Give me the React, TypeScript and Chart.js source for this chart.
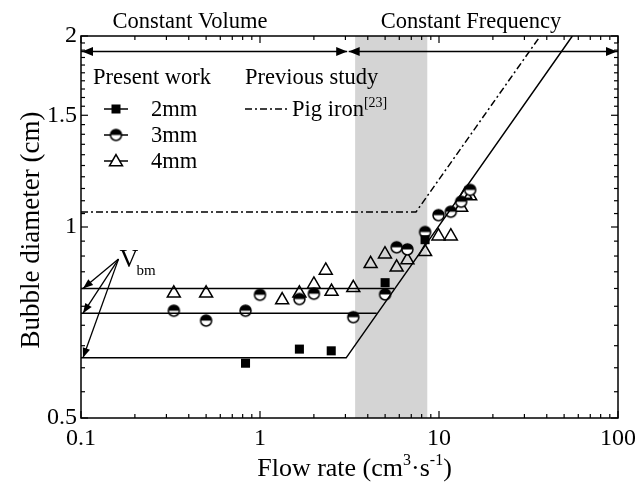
import React, { useEffect, useRef } from 'react';
import { Chart, registerables } from 'chart.js';

Chart.register(...registerables);

// ---------------- data ----------------
const flow2mm = [0.83, 1.66, 2.5, 5.0, 8.36];
const dia2mm = [0.61, 0.642, 0.638, 0.817, 0.955];

const flow3mm = [0.33, 0.5, 0.83, 1.0, 1.66, 2.0, 3.32, 5.0, 5.8, 6.66, 8.36, 9.93, 11.64, 13.3, 14.93];
const dia3mm = [0.738, 0.712, 0.738, 0.782, 0.77, 0.785, 0.721, 0.783, 0.929, 0.922, 0.982, 1.044, 1.057, 1.096, 1.144];

const flow4mm = [0.33, 0.5, 1.33, 1.66, 2.0, 2.33, 2.51, 3.32, 4.15, 4.99, 5.8, 6.66, 8.36, 9.93, 11.64, 13.3, 14.0, 14.93];
const dia4mm = [0.786, 0.786, 0.767, 0.786, 0.812, 0.854, 0.791, 0.802, 0.875, 0.906, 0.864, 0.887, 0.914, 0.967, 0.967, 1.073, 1.125, 1.119];

// model lines (present work): constant volume levels and constant frequency branch
const modelFlowA = [0.1, 5.61];
const modelDiaA = [0.8, 0.8];
const modelFlowB = [0.1, 4.49];
const modelDiaB = [0.731, 0.731];
const modelFlowC = [0.1, 3.03, 55.6];
const modelDiaC = [0.622, 0.622, 2.0];

// previous study: pig iron
const pigFlow = [0.1, 7.44, 36.8];
const pigDia = [1.056, 1.056, 2.0];

// regime arrows
const regimeDia = 1.89;
const cvFlow = [0.1, 3.07];
const cfFlow = [3.13, 100];

// transition band
const bandFlow = [3.4, 8.6];

// V_bm annotation
const vbmFlow = 0.162;
const vbmDia = 0.89;
const vbmTargets = [0.8, 0.731, 0.622];

// ticks
const xTickLabels = [0.1, 1, 10, 100];
const yTickLabels = [0.5, 1, 1.5, 2];

// ---------------- helpers ----------------
const FONT = '"Liberation Serif", "Times New Roman", serif';
const TICK_SIZE = 24;
const TEXT_SIZE = 22.5;
const TITLE_SIZE = 27;

const xTickValues: number[] = [];
for (let p = -1; p <= 1; p++) {
  for (let m = 1; m <= 9; m++) xTickValues.push(parseFloat((m * Math.pow(10, p)).toPrecision(6)));
}
xTickValues.push(100);

const yTickValues: number[] = [];
for (let i = 0; i <= 30; i++) yTickValues.push(parseFloat((0.5 + i * 0.05).toFixed(2)));

const isIn = (arr: number[], v: number) => arr.some((a) => Math.abs(a - v) < 1e-9);

const zip = (xs: number[], ys: number[]) => xs.map((x, i) => ({ x, y: ys[i] }));

function makeHalfCircle(r: number) {
  const size = Math.ceil(2 * r + 4);
  const c = document.createElement('canvas');
  c.width = size;
  c.height = size;
  const g = c.getContext('2d')!;
  const cx = size / 2, cy = size / 2;
  g.fillStyle = '#fff';
  g.beginPath(); g.arc(cx, cy, r, 0, Math.PI * 2); g.fill();
  g.fillStyle = '#000';
  g.beginPath(); g.arc(cx, cy, r, Math.PI, 2 * Math.PI); g.closePath(); g.fill();
  g.strokeStyle = '#000'; g.lineWidth = 1.5;
  g.beginPath(); g.arc(cx, cy, r, 0, Math.PI * 2); g.stroke();
  return c;
}

function arrowHead(ctx: CanvasRenderingContext2D, tipX: number, tipY: number, fromX: number, fromY: number, len = 11, half = 4.5) {
  const ang = Math.atan2(tipY - fromY, tipX - fromX);
  const bx = tipX - len * Math.cos(ang), by = tipY - len * Math.sin(ang);
  ctx.beginPath();
  ctx.moveTo(tipX, tipY);
  ctx.lineTo(bx + half * Math.sin(ang), by - half * Math.cos(ang));
  ctx.lineTo(bx - half * Math.sin(ang), by + half * Math.cos(ang));
  ctx.closePath();
  ctx.fill();
}

type Part = { t: string; sup?: boolean; sub?: boolean };
function drawRich(ctx: CanvasRenderingContext2D, parts: Part[], x: number, y: number, size: number, align: 'left' | 'center') {
  const smallSize = Math.round(size * 0.6);
  let total = 0;
  const widths = parts.map((p) => {
    ctx.font = `${p.sup || p.sub ? smallSize : size}px ${FONT}`;
    const w = ctx.measureText(p.t).width;
    total += w;
    return w;
  });
  let cx = align === 'center' ? x - total / 2 : x;
  ctx.textAlign = 'left';
  ctx.textBaseline = 'alphabetic';
  parts.forEach((p, i) => {
    ctx.font = `${p.sup || p.sub ? smallSize : size}px ${FONT}`;
    const dy = p.sup ? -size * 0.42 : p.sub ? size * 0.25 : 0;
    ctx.fillText(p.t, cx, y + dy);
    cx += widths[i];
  });
}

export default function App() {
  const ref = useRef<HTMLCanvasElement | null>(null);

  useEffect(() => {
    document.body.style.margin = '0';
    const canvas = ref.current;
    if (!canvas) return;

    const halfCircle = makeHalfCircle(5.5);

    const drawSquare = (ctx: CanvasRenderingContext2D, cx: number, cy: number) => {
      ctx.fillStyle = '#000';
      ctx.fillRect(cx - 4.5, cy - 4.5, 9, 9);
    };
    const drawTriangle = (ctx: CanvasRenderingContext2D, cx: number, cy: number) => {
      const r = 7.5;
      ctx.beginPath();
      ctx.moveTo(cx, cy - r);
      ctx.lineTo(cx + r * Math.sin(Math.PI / 3), cy + r * 0.5);
      ctx.lineTo(cx - r * Math.sin(Math.PI / 3), cy + r * 0.5);
      ctx.closePath();
      ctx.fillStyle = '#fff';
      ctx.fill();
      ctx.strokeStyle = '#000';
      ctx.lineWidth = 1.5;
      ctx.stroke();
    };

    const decor = {
      id: 'decor',
      beforeDatasetsDraw(chart: any) {
        const { ctx, chartArea: a } = chart;
        const xs = chart.scales.x;
        ctx.save();
        ctx.fillStyle = '#d4d4d4';
        const x0 = xs.getPixelForValue(bandFlow[0]);
        const x1 = xs.getPixelForValue(bandFlow[1]);
        ctx.fillRect(x0, a.top, x1 - x0, a.bottom - a.top);
        ctx.restore();
      },
      afterDatasetsDraw(chart: any) {
        const { ctx, chartArea: a } = chart;
        const xs = chart.scales.x, ys = chart.scales.y;
        ctx.save();
        ctx.strokeStyle = '#000';
        ctx.fillStyle = '#000';
        // frame
        ctx.lineWidth = 1.5;
        ctx.strokeRect(a.left, a.top, a.right - a.left, a.bottom - a.top);
        // ticks
        ctx.lineWidth = 1.2;
        const seg = (x1: number, y1: number, x2: number, y2: number) => {
          ctx.beginPath(); ctx.moveTo(x1, y1); ctx.lineTo(x2, y2); ctx.stroke();
        };
        xTickValues.forEach((v) => {
          const px = xs.getPixelForValue(v);
          const len = isIn(xTickLabels, v) ? 7 : 4;
          seg(px, a.bottom, px, a.bottom - len);
          seg(px, a.top, px, a.top + len);
        });
        yTickValues.forEach((v) => {
          const py = ys.getPixelForValue(v);
          const len = isIn(yTickLabels, v) ? 7 : 4;
          seg(a.left, py, a.left + len, py);
          seg(a.right, py, a.right - len, py);
        });

        // regime arrows heads
        const ry = ys.getPixelForValue(regimeDia);
        arrowHead(ctx, xs.getPixelForValue(cvFlow[0]) + 1, ry, xs.getPixelForValue(cvFlow[1]), ry);
        arrowHead(ctx, xs.getPixelForValue(cvFlow[1]), ry, xs.getPixelForValue(cvFlow[0]), ry);
        arrowHead(ctx, xs.getPixelForValue(cfFlow[0]), ry, xs.getPixelForValue(cfFlow[1]), ry);
        arrowHead(ctx, xs.getPixelForValue(cfFlow[1]) - 1, ry, xs.getPixelForValue(cfFlow[0]), ry);

        // V_bm arrows
        const ox = xs.getPixelForValue(vbmFlow), oy = ys.getPixelForValue(vbmDia);
        ctx.lineWidth = 1.3;
        vbmTargets.forEach((d) => {
          const tx = xs.getPixelForValue(0.1) + 2;
          const ty = ys.getPixelForValue(d);
          seg(ox, oy, tx, ty);
          arrowHead(ctx, tx, ty, ox, oy, 10, 3.8);
        });
        ctx.fillStyle = '#000';
        ctx.font = `26px ${FONT}`;
        ctx.textAlign = 'left';
        ctx.textBaseline = 'alphabetic';
        ctx.fillText('V', ox + 1, oy + 8);
        ctx.font = `15px ${FONT}`;
        ctx.fillText('bm', ox + 18, oy + 16);

        // headers
        ctx.font = `${TEXT_SIZE}px ${FONT}`;
        ctx.textAlign = 'center';
        ctx.fillText('Constant Volume', 190, 28);
        ctx.fillText('Constant Frequency', 471, 28);

        // legend
        ctx.textAlign = 'left';
        ctx.fillText('Present work', 93, 84);
        ctx.fillText('Previous study', 245, 84);
        const rows = [109, 135, 161];
        const labels = ['2mm', '3mm', '4mm'];
        rows.forEach((ry2, i) => {
          ctx.strokeStyle = '#000';
          ctx.lineWidth = 1.5;
          seg(104, ry2, 128, ry2);
          if (i === 0) drawSquare(ctx, 116, ry2);
          if (i === 1) ctx.drawImage(halfCircle, 116 - halfCircle.width / 2, ry2 - halfCircle.height / 2);
          if (i === 2) drawTriangle(ctx, 116, ry2 + 1);
          ctx.fillStyle = '#000';
          ctx.font = `${TEXT_SIZE}px ${FONT}`;
          ctx.fillText(labels[i], 151, ry2 + 7);
        });
        ctx.strokeStyle = '#000';
        ctx.lineWidth = 1.5;
        ctx.setLineDash([7, 3, 2, 3]);
        seg(245, rows[0], 289, rows[0]);
        ctx.setLineDash([]);
        drawRich(ctx, [{ t: 'Pig iron' }, { t: '[23]', sup: true }], 292, rows[0] + 7, TEXT_SIZE, 'left');

        // axis titles
        drawRich(ctx, [{ t: 'Flow rate (cm' }, { t: '3', sup: true }, { t: '·s' }, { t: '-1', sup: true }, { t: ')' }], (a.left + a.right) / 2 + 5, 476, TITLE_SIZE - 1, 'center');
        ctx.save();
        ctx.translate(39, (a.top + a.bottom) / 2 + 3);
        ctx.rotate(-Math.PI / 2);
        ctx.font = `${TITLE_SIZE}px ${FONT}`;
        ctx.textAlign = 'center';
        ctx.fillStyle = '#000';
        ctx.fillText('Bubble diameter (cm)', 0, 0);
        ctx.restore();

        ctx.restore();
      },
    };

    const lineDs = (xs: number[], ys: number[], extra: any = {}) => ({
      type: 'line' as const,
      data: zip(xs, ys),
      borderColor: '#000',
      borderWidth: 1.5,
      pointRadius: 0,
      fill: false,
      tension: 0,
      ...extra,
    });

    const chart = new Chart(canvas, {
      type: 'scatter',
      data: {
        datasets: [
          lineDs(modelFlowA, modelDiaA),
          lineDs(modelFlowB, modelDiaB),
          lineDs(modelFlowC, modelDiaC),
          lineDs(pigFlow, pigDia, { borderDash: [7, 3, 2, 3] }),
          lineDs(cvFlow, [regimeDia, regimeDia]),
          lineDs(cfFlow, [regimeDia, regimeDia]),
          {
            label: '2mm',
            data: zip(flow2mm, dia2mm),
            pointStyle: 'rect',
            pointRadius: 6.4,
            backgroundColor: '#000',
            borderColor: '#000',
            borderWidth: 0,
          },
          {
            label: '3mm',
            data: zip(flow3mm, dia3mm),
            pointStyle: halfCircle,
            pointRadius: 6,
          },
          {
            label: '4mm',
            data: zip(flow4mm, dia4mm),
            pointStyle: 'triangle',
            pointRadius: 7.5,
            backgroundColor: 'rgba(255,255,255,0)',
            borderColor: '#000',
            borderWidth: 1.5,
          },
        ] as any,
      },
      options: {
        responsive: false,
        animation: false,
        layout: { padding: { top: 36, right: 17, left: 0, bottom: 0 } },
        plugins: { legend: { display: false }, tooltip: { enabled: false } },
        scales: {
          x: {
            type: 'logarithmic',
            min: 0.1,
            max: 100,
            grid: { display: false, drawTicks: false, tickLength: 0 },
            border: { display: false },
            afterBuildTicks: (s: any) => {
              s.ticks = xTickValues.map((v) => ({ value: v }));
            },
            afterFit: (s: any) => {
              s.height = 67;
              s.paddingLeft = 0;
              s.paddingRight = 0;
            },
            ticks: {
              autoSkip: false,
              maxRotation: 0,
              padding: 6,
              color: '#000',
              font: { family: FONT, size: TICK_SIZE },
              callback: (v: any) => (isIn(xTickLabels, Number(v)) ? String(Number(v)) : ''),
            },
          },
          y: {
            type: 'logarithmic',
            min: 0.5,
            max: 2,
            grid: { display: false, drawTicks: false, tickLength: 0 },
            border: { display: false },
            afterBuildTicks: (s: any) => {
              s.ticks = yTickValues.map((v) => ({ value: v }));
            },
            afterFit: (s: any) => {
              s.width = 81;
              s.paddingTop = 0;
              s.paddingBottom = 0;
            },
            ticks: {
              autoSkip: false,
              padding: 4,
              color: '#000',
              font: { family: FONT, size: TICK_SIZE },
              callback: (v: any) => (isIn(yTickLabels, Number(v)) ? String(Number(v)) : ''),
            },
          },
        },
      } as any,
      plugins: [decor],
    });

    return () => chart.destroy();
  }, []);

  return (
    <div style={{ width: 635, height: 485, background: '#fff' }}>
      <canvas ref={ref} width={635} height={485} style={{ display: 'block' }} />
    </div>
  );
}
